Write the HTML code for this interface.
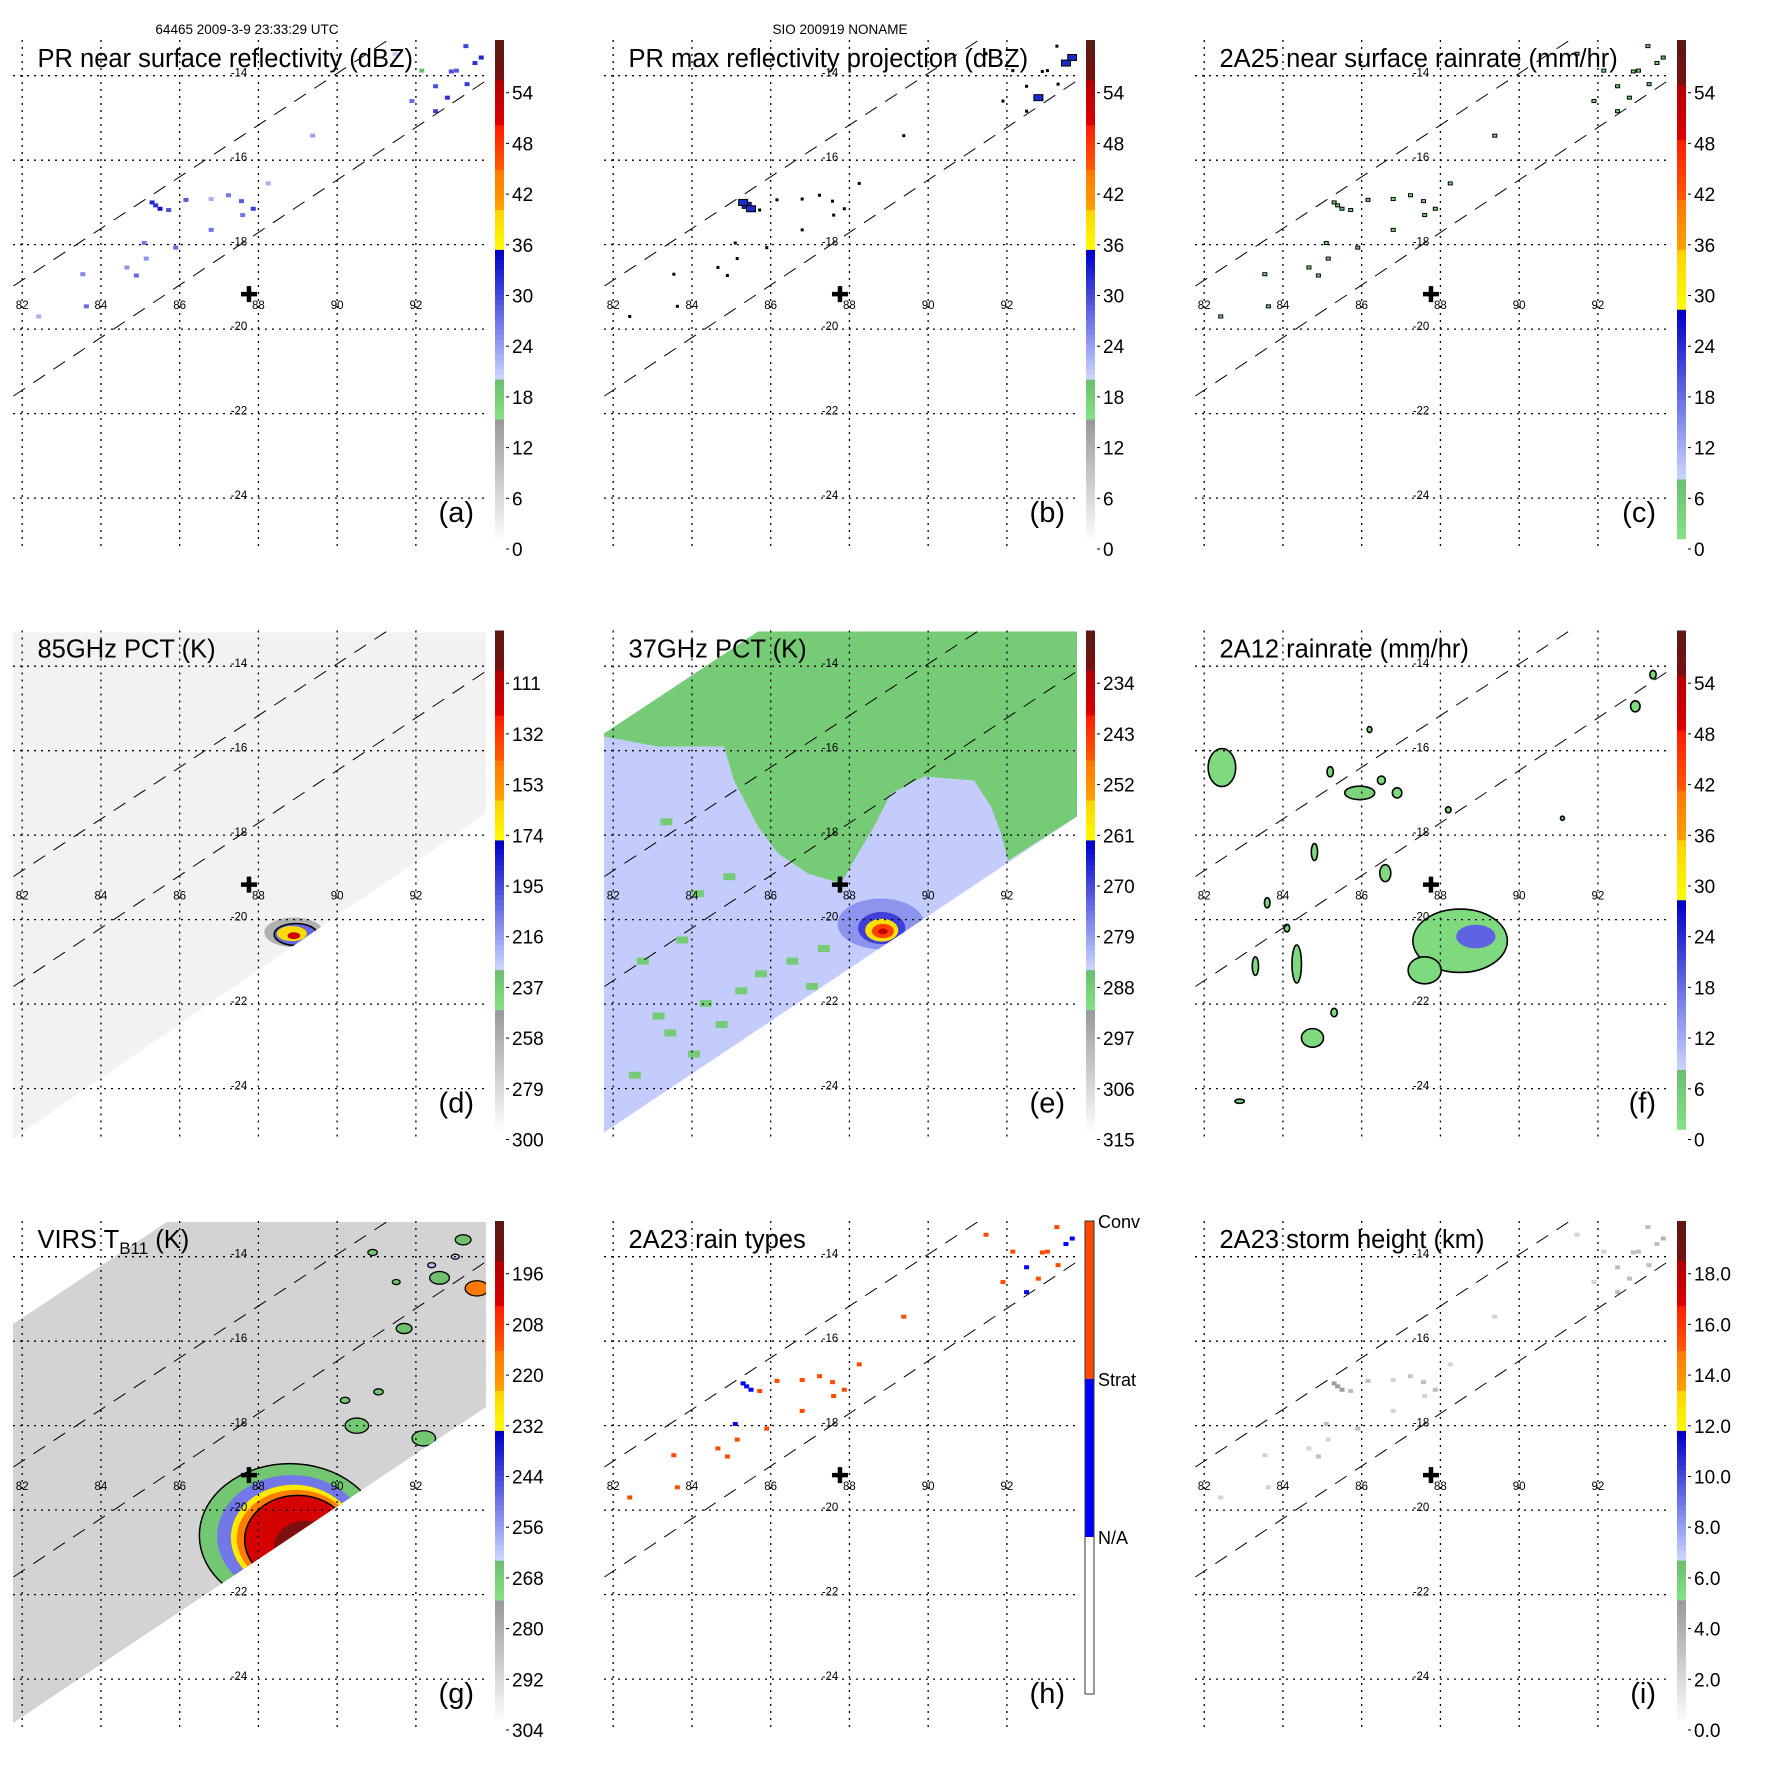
<!DOCTYPE html>
<html><head><meta charset="utf-8">
<style>
html,body{margin:0;padding:0;background:#fff;}
svg{display:block;font-family:"Liberation Sans",sans-serif;}
</style></head>
<body>
<svg id="chart" xmlns="http://www.w3.org/2000/svg" width="1771" height="1771" viewBox="0 0 1771 1771">
<rect x="0" y="0" width="1771" height="1771" fill="#fff"/>
<text x="247" y="34" font-size="13.5" text-anchor="middle">64465 2009-3-9 23:33:29 UTC</text>
<text x="840" y="34" font-size="13.5" text-anchor="middle">SIO 200919 NONAME</text>
</svg>
<script>
// ---- data ----
const prLon=[85.39,85.5,85.72,86.16,87.57,87.87,87.24,86.8,85.1,85.9,85.15,84.9,83.54,83.63,92.5,92.8,92.5,93.3,93.66,93.27,92.15,93.03,86.8,84.66,91.47,82.42,89.38,88.25,85.3,87.6,92.9,93.5,91.9];
const prLat=[-17.07,-17.15,-17.18,-16.94,-16.97,-17.15,-16.83,-16.92,-17.96,-18.07,-18.33,-18.73,-18.7,-19.46,-14.84,-14.52,-14.25,-14.2,-13.57,-13.3,-13.88,-13.88,-17.65,-18.54,-13.48,-19.7,-15.42,-16.55,-17.0,-17.3,-13.9,-13.7,-14.6];
const prDbz=[31,33,29,28,28,30,26,22,26,27,24,27,25,27,30,31,29,30,32,30,19,28,26,24,20,22,23,22,32,26,29,31,27];
const rainRate=[4,6,3,3,2,3,2,1,3,3,2,3,2,3,3,4,3,3,5,3,1,3,2,2,1,1,2,1,5,2,3,4,2];
const rainType=[1,1,2,2,2,2,2,2,1,2,2,2,2,2,1,2,1,2,1,2,2,2,2,2,2,2,2,2,1,2,2,1,2];
const stormHt=[4.5,4.5,3,3,3,3,2.5,2,3,3,2,3,2,2,3,3,3,3,3.5,3,2,3,2,2,2,2,2,2,4.5,2,3,3,2];
const d85Lon=[88.9,88.95,88.85,88.9];
const d85Lat=[-20.3,-20.35,-20.33,-20.38];
const d85Rx=[0.75,0.55,0.38,0.16];
const d85Ry=[0.35,0.26,0.18,0.08];
const d85Tb=[262,205,165,120];
const e37Lon=[88.8,88.82,88.82,88.85,88.85];
const e37Lat=[-20.1,-20.2,-20.25,-20.27,-20.28];
const e37Rx=[1.1,0.6,0.42,0.28,0.12];
const e37Ry=[0.6,0.38,0.27,0.17,0.07];
const e37Tb=[279,270,258,245,236];
const eGreenLon=[83.0,83.3,84.2,84.6,85.1,85.6,84.0,83.6,86.4,86.9,82.6,83.9,85.3,86.2,84.8,87.2,82.4,83.2];
const eGreenLat=[-22.2,-22.6,-21.9,-22.4,-21.6,-21.2,-19.3,-20.4,-20.9,-21.5,-20.9,-23.1,-23.3,-22.6,-18.9,-20.6,-23.6,-17.6];
const f12Lon=[88.5,88.9,82.45,85.95,84.75,84.35,87.6,86.6,92.95,93.4,83.3,84.1,85.2,86.2,88.2,86.5,82.9,91.1,84.8,83.6,85.3,86.9];
const f12Lat=[-20.5,-20.4,-16.4,-17.0,-22.8,-21.05,-21.2,-18.9,-14.95,-14.2,-21.1,-20.2,-16.5,-15.5,-17.4,-16.7,-24.3,-17.6,-18.4,-19.6,-22.2,-17.0];
const f12Rx=[1.2,0.5,0.35,0.38,0.28,0.12,0.42,0.14,0.12,0.08,0.08,0.07,0.08,0.06,0.07,0.1,0.12,0.05,0.08,0.07,0.08,0.12];
const f12Ry=[0.75,0.28,0.45,0.16,0.22,0.45,0.32,0.2,0.13,0.1,0.22,0.09,0.12,0.07,0.07,0.1,0.05,0.05,0.2,0.12,0.1,0.12];
const f12Rr=[2,18,2,3,2,2,2,2,2,2,2,2,2,2,2,2,2,2,2,2,2,2];
const gRingLon=[88.8,88.85,88.9,88.95,89.0,89.2];
const gRingLat=[-20.6,-20.62,-20.65,-20.67,-20.7,-20.85];
const gRingRx=[2.3,1.9,1.6,1.5,1.35,0.8];
const gRingRy=[1.7,1.45,1.25,1.15,1.05,0.6];
const gRingTb=[268,252,230,216,202,194];
const gCloudLon=[92.6,93.2,91.7,93.55,91.05,92.2,90.5,90.9,92.4,93.0,91.5,90.2];
const gCloudLat=[-14.5,-13.6,-15.7,-14.75,-17.2,-18.3,-18.0,-13.9,-14.2,-14.0,-14.6,-17.4];
const gCloudR=[0.25,0.2,0.2,0.3,0.12,0.3,0.3,0.12,0.1,0.1,0.1,0.12];
const gCloudTb=[266,267,266,215,268,268,268,268,262,264,267,268];
const crossLon=87.76, crossLat=-19.17;
const lonTicks=[82,84,86,88,90,92];
const latTicks=[-14,-16,-18,-20,-22,-24];
const labelsDbz=['0','6','12','18','24','30','36','42','48','54'];
const labelsRain=['0','6','12','18','24','30','36','42','48','54'];
const labels85=['300','279','258','237','216','195','174','153','132','111'];
const labels37=['315','306','297','288','279','270','261','252','243','234'];
const labelsIR=['304','292','280','268','256','244','232','220','208','196'];
const labelsHt=['0.0','2.0','4.0','6.0','8.0','10.0','12.0','14.0','16.0','18.0'];

// ---- helpers ----
const NS='http://www.w3.org/2000/svg';
const svg=document.getElementById('chart');
function mk(tag,attrs,parent){const e=document.createElementNS(NS,tag);for(const k in attrs)e.setAttribute(k,attrs[k]);parent.appendChild(e);return e;}
const X=lon=>22.2+(lon-82)*39.37;
const Y=lat=>75.7+(-lat-14)*42.24;
const SX=d=>d*39.37, SY=d=>d*42.24;
const dbzPal=[[0,2.37,'#fcfcfc','#9a9a9a'],[2.37,3.22,'#86e486','#6cbd6c'],[3.22,5.75,'#ccd6ff','#0000c8'],[5.75,6.6,'#ffff00','#ffd200'],[6.6,7.43,'#ffa000','#ff7800'],[7.43,8.27,'#ff5a00','#ff1e00'],[8.27,9.16,'#e00000','#b40000'],[9.16,10,'#7a1010','#5a1a14']];
const rainPal=[[0,1.19,'#86e486','#6cbd6c'],[1.19,4.56,'#ccd6ff','#0000c8'],[4.56,5.75,'#ffff00','#ffd200'],[5.75,6.78,'#ffa000','#ff7800'],[6.78,7.97,'#ff5a00','#ff1e00'],[7.97,9.12,'#e00000','#b40000'],[9.12,10,'#7a1010','#5a1a14']];
function hx(c){return [1,3,5].map(i=>parseInt(c.substr(i,2),16));}
function palColor(pal,s){s=Math.max(0,Math.min(9.999,s));for(const g of pal){if(s>=g[0]&&s<=g[1]){const t=(s-g[0])/(g[1]-g[0]);const a=hx(g[2]),b=hx(g[3]);return 'rgb('+a.map((v,i)=>Math.round(v+(b[i]-v)*t)).join(',')+')';}}return '#fff';}

const panels=[
 {id:'a',col:0,row:0,title:'PR near surface reflectivity (dBZ)',pal:dbzPal,labels:labelsDbz},
 {id:'b',col:1,row:0,title:'PR max reflectivity projection (dBZ)',pal:dbzPal,labels:labelsDbz},
 {id:'c',col:2,row:0,title:'2A25 near surface rainrate (mm/hr)',pal:rainPal,labels:labelsRain},
 {id:'d',col:0,row:1,title:'85GHz PCT (K)',pal:dbzPal,labels:labels85},
 {id:'e',col:1,row:1,title:'37GHz PCT (K)',pal:dbzPal,labels:labels37},
 {id:'f',col:2,row:1,title:'2A12 rainrate (mm/hr)',pal:rainPal,labels:labelsRain},
 {id:'g',col:0,row:2,title:'VIRS',pal:dbzPal,labels:labelsIR},
 {id:'h',col:1,row:2,title:'2A23 rain types',pal:null,labels:null},
 {id:'i',col:2,row:2,title:'2A23 storm height (km)',pal:dbzPal,labels:labelsHt}
];
const s85=v=>(300-v)/21, s37=v=>(315-v)/9, sIR=v=>(304-v)/12;
const swathFull='13,42 486,42 486,223 13,548';
const swathCut='13,143 167,41 486,41 486,226 13,542';

panels.forEach(p=>{
 const g=mk('g',{transform:'translate('+(p.col*591)+','+(p.row*590.5)+')'},svg);
 
 
 const defs=mk('defs',{},g);
 const cp=mk('clipPath',{id:'clip-'+p.id},defs);
 if(p.id==='d') mk('polygon',{points:swathFull},cp);
 else if(p.id==='e'||p.id==='g') mk('polygon',{points:swathCut},cp);
 else mk('rect',{x:13,y:40,width:473,height:510},cp);
 const data=mk('g',{'clip-path':'url(#clip-'+p.id+')'},g);
 
 

 if(p.id==='d'){
  const bg=mk('rect',{x:0,y:0,width:500,height:560,fill:palColor(dbzPal,s85(295))},data);
  
  
  for(let i=0;i<d85Lon.length;i++){
   const e=mk('ellipse',{cx:X(d85Lon[i]),cy:Y(d85Lat[i]),rx:SX(d85Rx[i]),ry:SY(d85Ry[i]),fill:palColor(dbzPal,s85(d85Tb[i])),stroke:i==1?'#000':'none','stroke-width':1.5},data);
   
   
  }
 }
 if(p.id==='e'){
  const bg=mk('rect',{x:0,y:0,width:500,height:560,fill:palColor(dbzPal,s37(285))},data);
  
  
  const gr=mk('polygon',{points:'13,143 167,41 486,41 486,226 417,270 410,243 400,216 383,190 333,186 300,203 283,236 267,263 250,293 217,283 187,263 167,236 143,190 133,156 67,156 13,146',fill:palColor(dbzPal,s37(289))},data);
  
  
  for(let i=0;i<eGreenLon.length;i++){
   const r=mk('rect',{x:X(eGreenLon[i]),y:Y(eGreenLat[i]),width:12,height:7,fill:palColor(dbzPal,s37(289))},data);
   
   
  }
  for(let i=0;i<e37Lon.length;i++){
   const e=mk('ellipse',{cx:X(e37Lon[i]),cy:Y(e37Lat[i]),rx:SX(e37Rx[i]),ry:SY(e37Ry[i]),fill:palColor(dbzPal,s37(e37Tb[i]))},data);
   
   
  }
 }
 if(p.id==='g'){
  const bg=mk('rect',{x:0,y:0,width:500,height:560,fill:palColor(dbzPal,sIR(292))},data);
  
  
  for(let i=0;i<gRingLon.length;i++){
   const e=mk('ellipse',{cx:X(gRingLon[i]),cy:Y(gRingLat[i]),rx:SX(gRingRx[i]),ry:SY(gRingRy[i]),fill:palColor(dbzPal,sIR(gRingTb[i])),stroke:(i==0||i==4)?'#000':'none','stroke-width':1.5},data);
   
   
  }
  for(let i=0;i<gCloudLon.length;i++){
   const e=mk('ellipse',{cx:X(gCloudLon[i]),cy:Y(gCloudLat[i]),rx:SX(gCloudR[i]),ry:SY(gCloudR[i]*0.6),fill:palColor(dbzPal,sIR(gCloudTb[i])),stroke:'#000','stroke-width':1.3},data);
   
   
  }
 }
 if(p.id==='f'){
  for(let i=0;i<f12Lon.length;i++){
   const e=mk('ellipse',{cx:X(f12Lon[i]),cy:Y(f12Lat[i]),rx:SX(f12Rx[i]),ry:SY(f12Ry[i]),fill:palColor(rainPal,f12Rr[i]/6),stroke:f12Rr[i]<6?'#000':'none','stroke-width':1.6},data);
   
   
  }
 }
 if(['a','b','c','h','i'].includes(p.id)){
  for(let i=0;i<prLon.length;i++){
   let fill,st='none',w=5,h=4;
   if(p.id==='a') fill=palColor(dbzPal,prDbz[i]/6);
   if(p.id==='b'){fill=prDbz[i]>=31?'#1a2cc8':'#000';if(prDbz[i]>=31){st='#000';w=9;h=6;}else{w=3;h=3;}}
   if(p.id==='c'){fill=palColor(rainPal,rainRate[i]/6);st='#000';w=4;h=3;}
   if(p.id==='h') fill=rainType[i]==1?'#0000ff':'#ff4a00';
   if(p.id==='i') fill=palColor(dbzPal,stormHt[i]/2);
   const r=mk('rect',{x:X(prLon[i])-w/2,y:Y(prLat[i])-h/2,width:w,height:h,fill:fill,stroke:st,'stroke-width':1},data);
   
   
  }
 }
 // swath edges
 const s1=mk('line',{x1:13.4,y1:286,x2:388,y2:40,stroke:'#000','stroke-width':1,'stroke-dasharray':'14 10'},g);
 
 
 const s2=mk('line',{x1:13.4,y1:396,x2:485.5,y2:81,stroke:'#000','stroke-width':1,'stroke-dasharray':'14 10'},g);
 
 
 // grid
 lonTicks.forEach(lon=>{
  const l=mk('line',{x1:X(lon),y1:40,x2:X(lon),y2:548,stroke:'#000','stroke-width':1.3,'stroke-dasharray':'2 5'},g);
  
  
  const t=mk('text',{x:X(lon),y:309,'font-size':11.5,'text-anchor':'middle'},g);
  t.textContent=String(lon);
  
  
 });
 latTicks.forEach(lat=>{
  const l=mk('line',{x1:13,y1:Y(lat),x2:486,y2:Y(lat),stroke:'#000','stroke-width':1.3,'stroke-dasharray':'2 5'},g);
  
  
  const t=mk('text',{x:239,y:Y(lat)+1,'font-size':11.5,'text-anchor':'middle'},g);
  t.textContent=String(lat);
  
  
 });
 // storm centre
 const cx=X(crossLon),cy=Y(crossLat);
 const cr=mk('path',{d:'M'+(cx-8)+' '+cy+'H'+(cx+8)+'M'+cx+' '+(cy-8)+'V'+(cy+8),stroke:'#000','stroke-width':4.5},g);
 
 
 // title
 const tt=mk('text',{x:37.5,y:67,'font-size':25.5},g);
 if(p.id==='g'){
  tt.textContent='VIRS T';
  const sb=mk('tspan',{'font-size':17,dy:6},tt);sb.textContent='B11';
  const rs=mk('tspan',{dy:-6},tt);rs.textContent=' (K)';
 } else tt.textContent=p.title;
 
 
 const lt=mk('text',{x:474,y:522,'font-size':29,'text-anchor':'end'},g);
 lt.textContent='('+p.id+')';
 
 
 // colorbar
 const cb=mk('g',{},g);
 
 
 if(p.id==='h'){
  const segs=[['#ffffff',356,513],['#0000ff',198,356],['#ff4a00',40,198]];
  segs.forEach(s=>{const r=mk('rect',{x:494,y:s[1],width:9,height:s[2]-s[1],fill:s[0]},cb);
   
   });
  const ob=mk('rect',{x:494,y:40,width:9,height:473,fill:'none',stroke:'#333','stroke-width':1},cb);
  
  
  [['Conv',47],['Strat',205],['N/A',363]].forEach(l=>{const t=mk('text',{x:507,y:l[1],'font-size':18},cb);t.textContent=l[0];
   
   });
 } else {
  for(let i=0;i<100;i++){
   const r=mk('rect',{x:495,y:539-(i+1)*4.99,width:9,height:5.3,fill:palColor(p.pal,(i+0.5)/10)},cb);
   
   
  }
  p.labels.forEach((lab,k)=>{
   const yc=549-50.7*k;
   const tk=mk('line',{x1:506,y1:yc,x2:509,y2:yc,stroke:'#000','stroke-width':1},cb);
   
   
   const t=mk('text',{x:512,y:yc+7,'font-size':19},cb);
   t.textContent=lab;
   
   
  });
 }
});
</script>
</body></html>
